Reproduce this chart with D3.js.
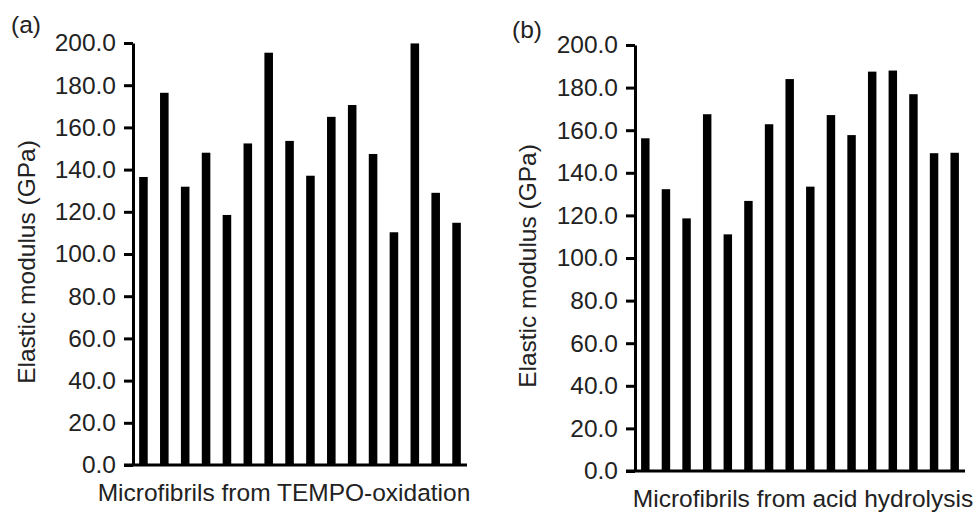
<!DOCTYPE html>
<html>
<head>
<meta charset="utf-8">
<script src="https://cdn.jsdelivr.net/npm/d3@7"></script>
<style>
  body { margin: 0; background: #fff; }
  svg { display: block; font-family: "Liberation Sans", Arial, sans-serif; }
  .tick text { fill: #222; }
</style>
</head>
<body>
<div id="chart"></div>
<script>
// values (GPa)
const tempoValues = [136.5, 176.4, 131.9, 148, 118.5, 152.4, 195.4, 153.6, 137.1, 165, 170.6, 147.4, 110.3, 199.8, 129, 114.8];
const acidValues = [156.2, 132.3, 118.6, 167.5, 111.1, 126.8, 162.8, 184, 133.5, 167.1, 157.7, 187.5, 188, 176.9, 149.2, 149.4];
const yTicks = [0, 20, 40, 60, 80, 100, 120, 140, 160, 180, 200];
const panelLabels = ["(a)", "(b)"];
const xTitles = ["Microfibrils from TEMPO-oxidation", "Microfibrils from acid hydrolysis"];
const yTitle = "Elastic modulus (GPa)";

const width = 976;
const height = 512;
const fontSize = 24.5;

const svg = d3.select("#chart")
  .append("svg")
  .attr("width", width)
  .attr("height", height);

const panels = [
  { values: tempoValues, label: panelLabels[0], xTitle: xTitles[0],
    left: 133, right: 467, top: 43, bottom: 465, labelX: 11, labelY: 33,
    yTitleX: 26, xTitleX: 284 },
  { values: acidValues, label: panelLabels[1], xTitle: xTitles[1],
    left: 635, right: 965, top: 45, bottom: 471, labelX: 512, labelY: 38,
    yTitleX: 527, xTitleX: 803 }
];

panels.forEach(drawPanel);

function drawPanel(p) {
  const g = svg.append("g");

  const x = d3.scaleBand()
    .domain(d3.range(p.values.length))
    .range([p.left, p.right])
    .paddingInner(0.59)
    .paddingOuter(0.295);

  const y = d3.scaleLinear().domain([0, 200]).range([p.bottom, p.top]);

  g.append("g")
    .selectAll("rect")
    .data(p.values)
    .join("rect")
    .attr("x", (d, i) => x(i))
    .attr("width", x.bandwidth())
    .attr("y", (d) => y(d))
    .attr("height", (d) => y(0) - y(d))
    .attr("fill", "#000");

  // y axis
  const yAxis = g.append("g")
    .attr("transform", `translate(${p.left},0)`)
    .call(d3.axisLeft(y)
      .tickValues(yTicks)
      .tickFormat(d3.format(".1f"))
      .tickSize(9)
      .tickPadding(8)
      .tickSizeOuter(0));
  yAxis.select(".domain").attr("stroke", "#000").attr("stroke-width", 3);
  yAxis.selectAll(".tick line").attr("stroke", "#000").attr("stroke-width", 3);
  yAxis.selectAll(".tick text")
    .attr("font-size", fontSize)
    .attr("font-family", "Liberation Sans, Arial, sans-serif");

  // x axis line
  g.append("line")
    .attr("x1", p.left - 9)
    .attr("x2", p.right)
    .attr("y1", y(0))
    .attr("y2", y(0))
    .attr("stroke", "#000")
    .attr("stroke-width", 3);

  g.append("text")
    .attr("x", p.xTitleX)
    .attr("y", p.bottom + 36)
    .attr("text-anchor", "middle")
    .attr("font-size", fontSize)
    .attr("fill", "#222")
    .text(p.xTitle);

  g.append("text")
    .attr("transform", `translate(${p.yTitleX},${(p.top + p.bottom) / 2 + 8}) rotate(-90)`)
    .attr("dy", "0.35em")
    .attr("text-anchor", "middle")
    .attr("font-size", fontSize)
    .attr("fill", "#222")
    .text(yTitle);

  g.append("text")
    .attr("x", p.labelX)
    .attr("y", p.labelY)
    .attr("font-size", fontSize)
    .attr("fill", "#222")
    .text(p.label);
}
</script>
</body>
</html>
